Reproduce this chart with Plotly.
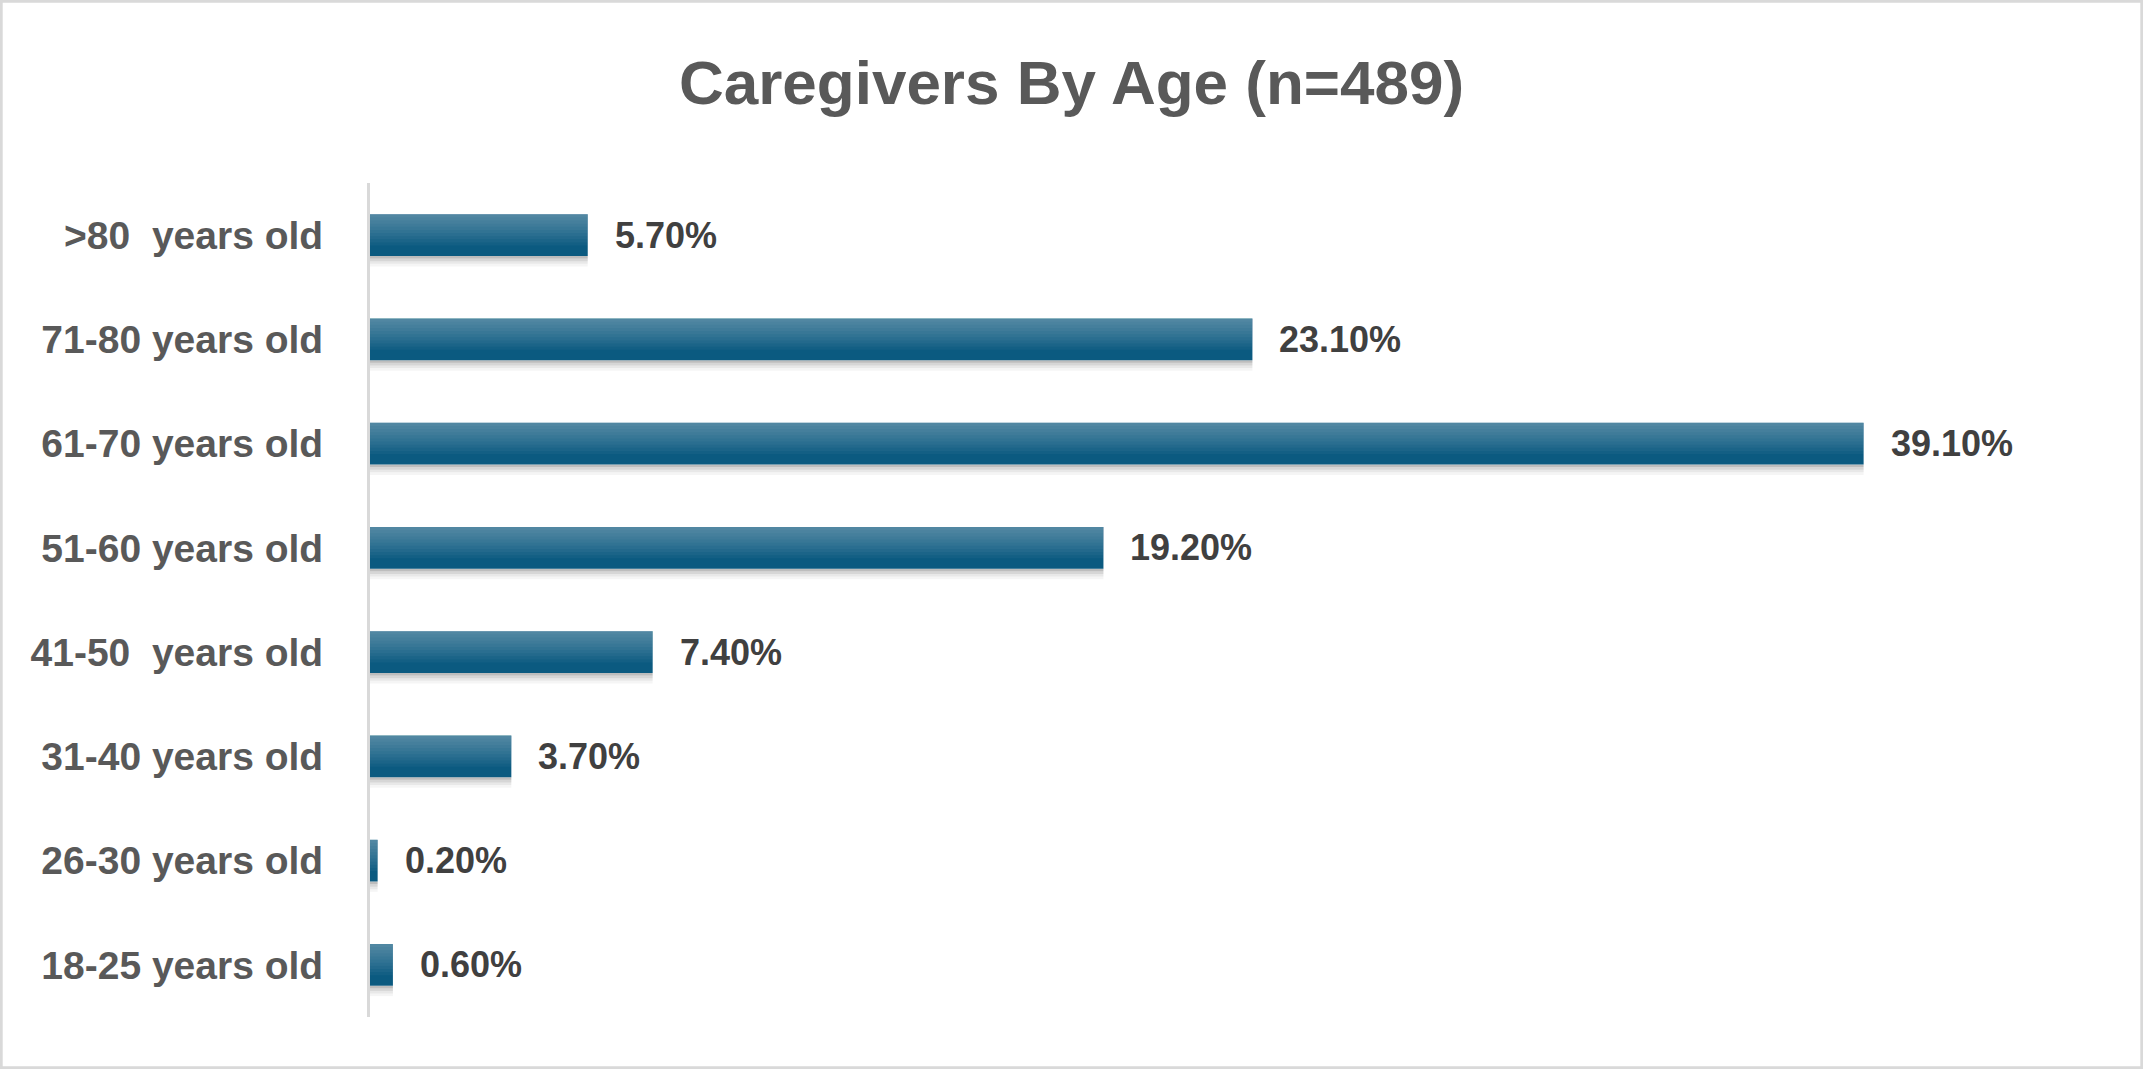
import plotly.graph_objects as go

categories = ["18-25 years old", "26-30 years old", "31-40 years old", "41-50\u00a0 years old",
              "51-60 years old", "61-70 years old", "71-80 years old", ">80\u00a0 years old"]
values = [0.6, 0.2, 3.7, 7.4, 19.2, 39.1, 23.1, 5.7]
labels = [f"{v:.2f}%" for v in values]

W, H = 2143, 1069
ML, MR, MT, MB = 370, 54, 183, 52

fig = go.Figure()

BW = 0.4
# soft shadow layers below bars
for k, a in enumerate([0.26, 0.16, 0.09, 0.04]):
    fig.add_trace(go.Bar(y=categories, x=values, orientation="h",
                         width=0.025, offset=-BW / 2 - 0.025 * (k + 1),
                         marker=dict(color=f"rgba(0,0,0,{a})", line=dict(width=0)),
                         hoverinfo="skip", showlegend=False))
# main bar
fig.add_trace(go.Bar(y=categories, x=values, orientation="h", width=BW, offset=-BW / 2,
                     marker=dict(color="#0b5a80", line=dict(width=0)),
                     hovertemplate="%{y}: %{x}%<extra></extra>", showlegend=False))
# gradient highlights toward the top of each bar
n = 10
for i in range(n):
    h = 0.3 * (n - i) / n
    fig.add_trace(go.Bar(y=categories, x=values, orientation="h", width=h, offset=BW / 2 - h,
                         marker=dict(color="rgba(255,255,255,0.035)", line=dict(width=0)),
                         hoverinfo="skip", showlegend=False))

for c, v, t in zip(categories, values, labels):
    fig.add_annotation(x=v, y=c, text=t, showarrow=False, xanchor="left", yanchor="middle",
                       xshift=25, font=dict(family="Liberation Sans, Arial, sans-serif",
                                            size=36, color="#404040", weight="bold"))

fig.update_layout(
    width=W, height=H,
    margin=dict(l=ML, r=MR, t=MT, b=MB),
    paper_bgcolor="white", plot_bgcolor="white",
    barmode="overlay",
    title=dict(text="<b>Caregivers By Age (n=489)</b>", x=0.5, xanchor="center",
               y=1 - 82 / H, yanchor="middle", xref="container", yref="container",
               font=dict(family="Liberation Sans, Arial, sans-serif",
                         size=62, color="#595959")),
    xaxis=dict(range=[0, 45], visible=False, showgrid=False, zeroline=False, fixedrange=True),
    yaxis=dict(categoryorder="array", categoryarray=categories, showgrid=False, zeroline=False,
               showline=True, linecolor="#d9d9d9", linewidth=3, ticks="",
               ticklabelstandoff=36,
               tickfont=dict(family="Liberation Sans, Arial, sans-serif", size=39,
                             color="#595959", weight="bold"),
               fixedrange=True),
    shapes=[dict(type="rect", xref="paper", yref="paper",
                 x0=-ML / (W - ML - MR) + 0.0007, x1=1 + MR / (W - ML - MR) - 0.0007,
                 y0=-MB / (H - MT - MB) + 0.0014, y1=1 + MT / (H - MT - MB) - 0.0014,
                 line=dict(color="#d9d9d9", width=3), layer="below")],
)

fig.write_html("out.html", config={"displayModeBar": False},
               post_script="document.body.style.margin='0';")
